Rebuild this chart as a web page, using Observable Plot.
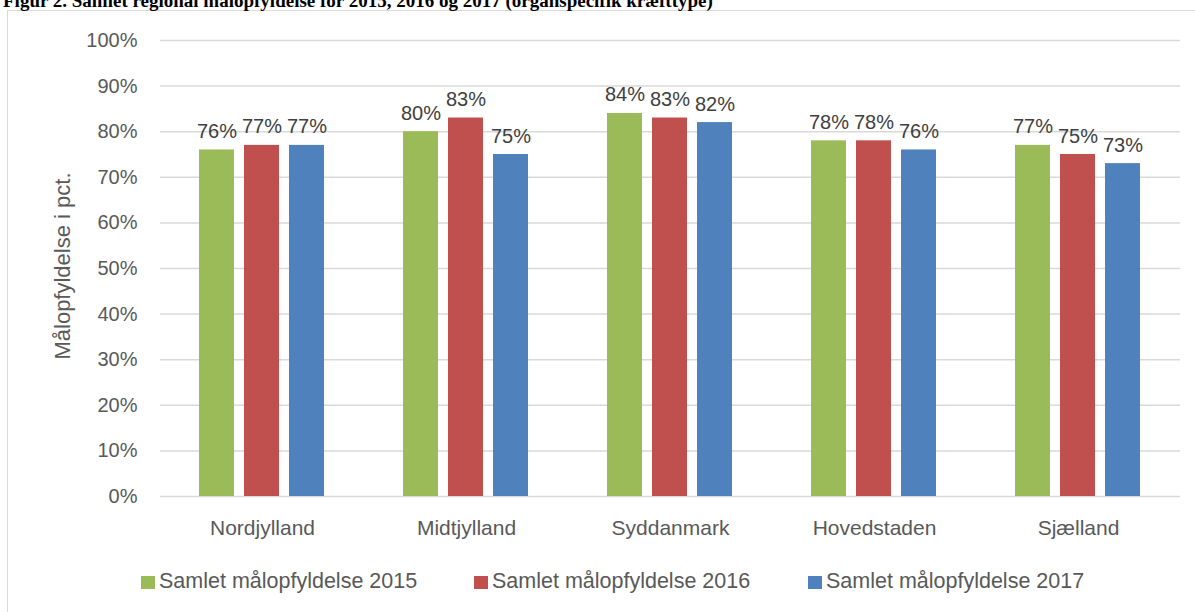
<!DOCTYPE html>
<html>
<head>
<meta charset="utf-8">
<script src="https://cdn.jsdelivr.net/npm/d3@7"></script>
<script src="https://cdn.jsdelivr.net/npm/@observablehq/plot@0.6"></script>
<style>
  html, body { margin: 0; padding: 0; background: #fff; }
  body { position: relative; width: 1195px; height: 612px; overflow: hidden; font-family: "Liberation Sans", Arial, sans-serif; }
  #title { position: absolute; left: 3px; top: -8px; font-family: "Liberation Serif", "Times New Roman", serif; font-weight: bold; font-size: 19px; line-height: 18px; color: #000; white-space: nowrap; }
  #frame { position: absolute; left: 7px; top: 10px; width: 1200px; height: 620px; border: 1.5px solid #d9d9d9; box-sizing: border-box; }
  #chart { position: absolute; left: 0; top: 0; }
  #ylabel { position: absolute; left: 63px; top: 266px; transform: translate(-50%, -50%) rotate(-90deg); font-size: 22px; color: #595959; white-space: nowrap; }
  .leg { position: absolute; top: 568px; font-size: 21.5px; color: #595959; white-space: nowrap; line-height: 26px; }
  .leg span.sw { display: inline-block; width: 14px; height: 13px; margin-right: 4px; vertical-align: -1px; }
</style>
</head>
<body>
<div id="frame"></div>
<div id="title">Figur 2. Samlet regional målopfyldelse for 2015, 2016 og 2017 (organspecifik kræfttype)</div>
<div id="chart"></div>
<div id="ylabel">Målopfyldelse i pct.</div>
<div id="legend"></div>
<script>
const regions = ["Nordjylland", "Midtjylland", "Syddanmark", "Hovedstaden", "Sjælland"];
const series = ["Samlet målopfyldelse 2015", "Samlet målopfyldelse 2016", "Samlet målopfyldelse 2017"];
const values2015 = [76, 80, 84, 78, 77];
const values2016 = [77, 83, 83, 78, 75];
const values2017 = [77, 75, 82, 76, 73];
const colors = ["#9BBB59", "#C0504D", "#4F81BD"];
const yTicks = [0, 10, 20, 30, 40, 50, 60, 70, 80, 90, 100];

const allValues = [values2015, values2016, values2017];
const data = [];
regions.forEach((r, i) => {
  series.forEach((s, j) => {
    data.push({ region: r, series: s, value: allValues[j][i] });
  });
});

const chart = Plot.plot({
  width: 1195,
  height: 545,
  marginLeft: 159,
  marginRight: 14,
  marginTop: 40,
  marginBottom: 49,
  style: { background: "transparent", fontFamily: "'Liberation Sans', Arial, sans-serif", overflow: "visible" },
  fx: { domain: regions, padding: 0, label: null },
  x: { domain: series, paddingInner: 0.219, paddingOuter: 0.87, axis: null },
  y: { domain: [0, 100], label: null },
  color: { domain: series, range: colors },
  marks: [
    Plot.gridY(yTicks, { stroke: "#d9d9d9", strokeOpacity: 1, strokeWidth: 1.5 }),
    Plot.axisY(yTicks, { tickSize: 0, tickPadding: 23, fontSize: 20, fill: "#595959", tickFormat: d => d + "%", label: null }),
    Plot.axisFx({ anchor: "bottom", tickSize: 0, tickPadding: 24, fontSize: 21, fill: "#595959", label: null }),
    Plot.barY(data, { fx: "region", x: "series", y: "value", fill: "series", inset: 0 }),
    Plot.text(data, { fx: "region", x: "series", y: "value", text: d => d.value + "%", lineAnchor: "bottom", dy: -12, fontSize: 20, fill: "#404040" })
  ]
});
document.getElementById("chart").appendChild(chart);

const legendLefts = [141, 474, 808];
const legend = document.getElementById("legend");
series.forEach((s, j) => {
  const div = document.createElement("div");
  div.className = "leg";
  div.style.left = legendLefts[j] + "px";
  div.innerHTML = `<span class="sw" style="background:${colors[j]}"></span>${s}`;
  legend.appendChild(div);
});
</script>
</body>
</html>
